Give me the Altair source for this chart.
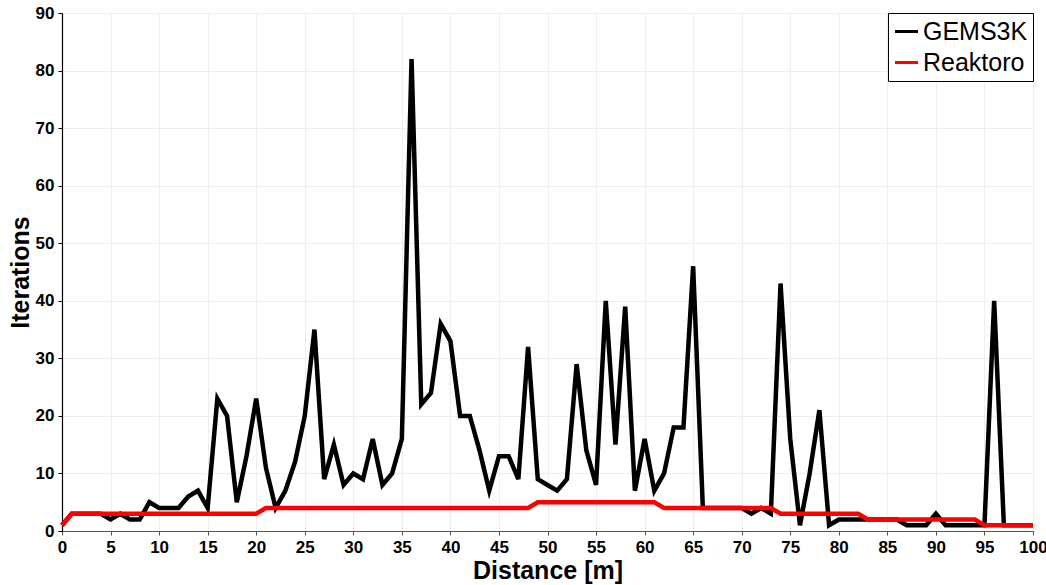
import altair as alt
import pandas as pd

distance = list(range(0, 101))

gems3k = [1, 3, 3, 3, 3, 2, 3, 2, 2, 5,
          4, 4, 4, 6, 7, 4, 23, 20, 5, 13,
          23, 11, 4, 7, 12, 20, 35, 9, 15, 8,
          10, 9, 16, 8, 10, 16, 82, 22, 24, 36,
          33, 20, 20, 14, 7, 13, 13, 9, 32, 9,
          8, 7, 9, 29, 14, 8, 40, 15, 39, 7,
          16, 7, 10, 18, 18, 46, 4, 4, 4, 4,
          4, 3, 4, 3, 43, 16, 1, 10, 21, 1,
          2, 2, 2, 2, 2, 2, 2, 1, 1, 1,
          3, 1, 1, 1, 1, 1, 40, 1, 1, 1,
          1]

reaktoro = [1, 3, 3, 3, 3, 3, 3, 3, 3, 3,
            3, 3, 3, 3, 3, 3, 3, 3, 3, 3,
            3, 4, 4, 4, 4, 4, 4, 4, 4, 4,
            4, 4, 4, 4, 4, 4, 4, 4, 4, 4,
            4, 4, 4, 4, 4, 4, 4, 4, 4, 5,
            5, 5, 5, 5, 5, 5, 5, 5, 5, 5,
            5, 5, 4, 4, 4, 4, 4, 4, 4, 4,
            4, 4, 4, 4, 3, 3, 3, 3, 3, 3,
            3, 3, 3, 2, 2, 2, 2, 2, 2, 2,
            2, 2, 2, 2, 2, 1, 1, 1, 1, 1,
            1]

series_names = ["GEMS3K", "Reaktoro"]
series_colors = ["#000000", "#ff0000"]

df = pd.concat([
    pd.DataFrame({"Distance": distance, "Iterations": gems3k, "Code": "GEMS3K", "order": 0}),
    pd.DataFrame({"Distance": distance, "Iterations": reaktoro, "Code": "Reaktoro", "order": 1}),
], ignore_index=True)

FONT = "Liberation Sans"

chart = alt.Chart(df).mark_line(strokeWidth=4.5, strokeJoin="miter").encode(
    x=alt.X("Distance:Q",
            scale=alt.Scale(domain=[0, 100], nice=False, zero=False),
            axis=alt.Axis(title="Distance [m]", values=list(range(0, 101, 5)),
                          domainColor="#555555", tickColor="#555555",
                          labelFlush=False, labelOverlap=False,
                          titlePadding=3)),
    y=alt.Y("Iterations:Q",
            scale=alt.Scale(domain=[0, 90], nice=False),
            axis=alt.Axis(title="Iterations", values=list(range(0, 91, 10)),
                          domainColor="#000000", tickColor="#000000",
                          labelFlush=False,
                          titlePadding=2)),
    color=alt.Color("Code:N",
                    scale=alt.Scale(domain=series_names, range=series_colors),
                    legend=alt.Legend(title=None, orient="top-right", offset=0,
                                      symbolType="stroke", symbolSize=530,
                                      symbolStrokeWidth=3,
                                      labelFontSize=25, labelFont=FONT,
                                      labelColor="#000000", labelOffset=3,
                                      strokeColor="#000000", fillColor="#ffffff",
                                      padding=5, rowPadding=4)),
    detail="order:O",
).properties(
    width=971,
    height=518,
    autosize=alt.AutoSizeParams(type="none"),
    padding={"left": 62, "top": 13, "right": 13, "bottom": 54},
).configure_view(
    stroke=None
).configure_axis(
    labelFont=FONT,
    labelFontWeight="bold",
    labelFontSize=17,
    labelColor="#000000",
    titleFont=FONT,
    titleFontWeight="bold",
    titleFontSize=25,
    titleColor="#000000",
    tickSize=4,
    labelPadding=4,
    gridColor="#eeeeee",
    gridWidth=1,
    domainWidth=1.2,
).configure_legend(
    labelLimit=300,
)

chart.save("out.html", embed_options={"renderer": "svg", "actions": False})
